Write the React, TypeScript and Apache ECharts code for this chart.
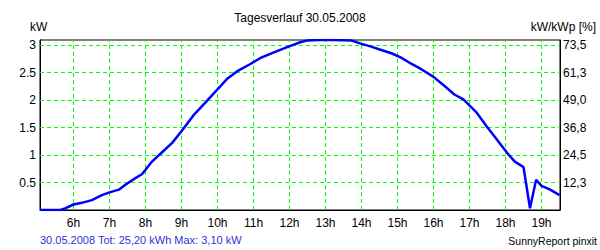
import React, { useEffect, useRef } from "react";
import * as echarts from "echarts";

const TITLE = "Tagesverlauf 30.05.2008";
const FOOTER_LEFT = "30.05.2008 Tot: 25,20 kWh Max: 3,10 kW";
const FOOTER_RIGHT = "SunnyReport pinxit";
const LEFT_UNIT = "kW";
const RIGHT_UNIT = "kW/kWp [%]";

// hour of day (decimal)
const hours = [
  5.07, 5.63, 5.77, 6.0, 6.23, 6.51, 6.79, 7.0, 7.26, 7.44, 7.72, 7.9, 8.0, 8.18,
  8.46, 8.74, 9.01, 9.33, 9.7, 9.98, 10.26, 10.54, 10.9, 11.18, 11.55, 11.97, 12.3,
  12.48, 12.8, 13.2, 13.73, 14.0, 14.27, 14.55, 14.83, 15.1, 15.38, 15.66, 16.0,
  16.3, 16.58, 16.83, 17.2, 17.48, 17.76, 18.08, 18.26, 18.5, 18.57, 18.68, 18.85,
  19.0, 19.24, 19.5,
];
// power in kW
const powerKW = [
  0, 0, 0.03, 0.1, 0.13, 0.18, 0.27, 0.32, 0.37, 0.46, 0.58, 0.65, 0.73, 0.88,
  1.05, 1.22, 1.44, 1.72, 1.98, 2.18, 2.38, 2.52, 2.65, 2.76, 2.86, 2.97, 3.05,
  3.08, 3.09, 3.09, 3.08, 3.02, 2.97, 2.91, 2.85, 2.77, 2.66, 2.56, 2.42, 2.26, 2.1,
  2.01, 1.77, 1.52, 1.28, 1.01, 0.88, 0.78, 0.49, 0.03, 0.55, 0.44, 0.37, 0.27,
];

const hourTicks = [6, 7, 8, 9, 10, 11, 12, 13, 14, 15, 16, 17, 18, 19];
const kwTicks = [0.5, 1, 1.5, 2, 2.5, 3];
const kwTickLabels = ["0.5", "1", "1.5", "2", "2.5", "3"];
const pctTickLabels = ["12,3", "24,5", "36,8", "49,0", "61,3", "73,5"];

// axis extents (chosen so that one hour = 36 px and 1 kW = 55 px)
const X_MIN = 6 - 33.5 / 36;
const X_MAX = X_MIN + 520 / 36;
const Y_MIN = 0;
const Y_MAX = 170 / 55;
const Y_STEP = 0.5;

export default function App() {
  const ref = useRef<HTMLDivElement>(null);

  useEffect(() => {
    document.body.style.margin = "0";
    if (!ref.current) return;
    const chart = echarts.init(ref.current, undefined, { renderer: "svg" });
    const font = "Liberation Sans, Arial, sans-serif";
    const green = { color: "#00ff00", type: [4, 3], width: 1 };
    const data = hours.map((h, i) => [h, powerKW[i]]);
    const labelFor = (labels: string[]) => (v: number) => {
      const i = kwTicks.findIndex((t) => Math.abs(t - v) < 1e-6);
      return i >= 0 ? labels[i] : "";
    };
    chart.setOption({
      animation: false,
      backgroundColor: "#ffffff",
      textStyle: { fontFamily: font },
      grid: {
        left: 40,
        right: 40,
        top: 40,
        bottom: 40,
        show: true,
        borderColor: "#000000",
        borderWidth: 1,
        backgroundColor: "transparent",
      },
      xAxis: {
        type: "value",
        min: X_MIN,
        max: X_MAX,
        axisLine: { show: true, lineStyle: { color: "#000", width: 1 } },
        axisTick: { show: false },
        splitLine: { show: false },
        axisLabel: {
          customValues: hourTicks,
          formatter: (v: number) => `${Math.round(v)}h`,
          color: "#000",
          fontSize: 12,
          fontFamily: font,
          margin: 7,
        },
      },
      yAxis: [
        {
          type: "value",
          min: Y_MIN,
          max: Y_MAX,
          interval: Y_STEP,
          position: "left",
          axisLine: { show: true, lineStyle: { color: "#000", width: 1 } },
          axisTick: { show: false },
          splitLine: { show: false },
          axisLabel: {
            showMinLabel: false,
            showMaxLabel: false,
            formatter: labelFor(kwTickLabels),
            color: "#000",
            fontSize: 12,
            fontFamily: font,
            margin: 4,
          },
        },
        {
          type: "value",
          min: Y_MIN,
          max: Y_MAX,
          interval: Y_STEP,
          position: "right",
          axisLine: { show: true, lineStyle: { color: "#000", width: 1 } },
          axisTick: { show: false },
          splitLine: { show: false },
          axisLabel: {
            showMinLabel: false,
            showMaxLabel: false,
            formatter: labelFor(pctTickLabels),
            color: "#000",
            fontSize: 12,
            fontFamily: font,
            margin: 3,
          },
        },
      ],
      graphic: [
        {
          type: "text",
          left: "center",
          top: 12,
          style: { text: TITLE, fill: "#000", font: `12px ${font}` },
        },
        {
          type: "text",
          left: 30,
          top: 21,
          style: { text: LEFT_UNIT, fill: "#000", font: `12px ${font}` },
        },
        {
          type: "text",
          right: 4,
          top: 21,
          style: { text: RIGHT_UNIT, fill: "#000", font: `12px ${font}` },
        },
        {
          type: "text",
          left: 40,
          top: 234,
          style: { text: FOOTER_LEFT, fill: "#3030d8", font: `11px ${font}` },
        },
        {
          type: "text",
          right: 3,
          top: 235,
          style: { text: FOOTER_RIGHT, fill: "#000", font: `10.5px ${font}` },
        },
      ],
      series: [
        {
          type: "line",
          data,
          showSymbol: false,
          symbol: "none",
          lineStyle: { color: "#0000ff", width: 2.5 },
          clip: true,
          z: 5,
          markLine: {
            silent: true,
            symbol: ["none", "none"],
            label: { show: false },
            lineStyle: green,
            emphasis: { disabled: true },
            z: 1,
            data: [
              ...hourTicks.map((h) => ({ xAxis: h })),
              ...kwTicks.map((v) => ({ yAxis: v })),
            ],
          },
        },
      ],
    });
    return () => chart.dispose();
  }, []);

  return (
    <div
      ref={ref}
      style={{ position: "absolute", left: 0, top: 0, width: 600, height: 250 }}
    />
  );
}
